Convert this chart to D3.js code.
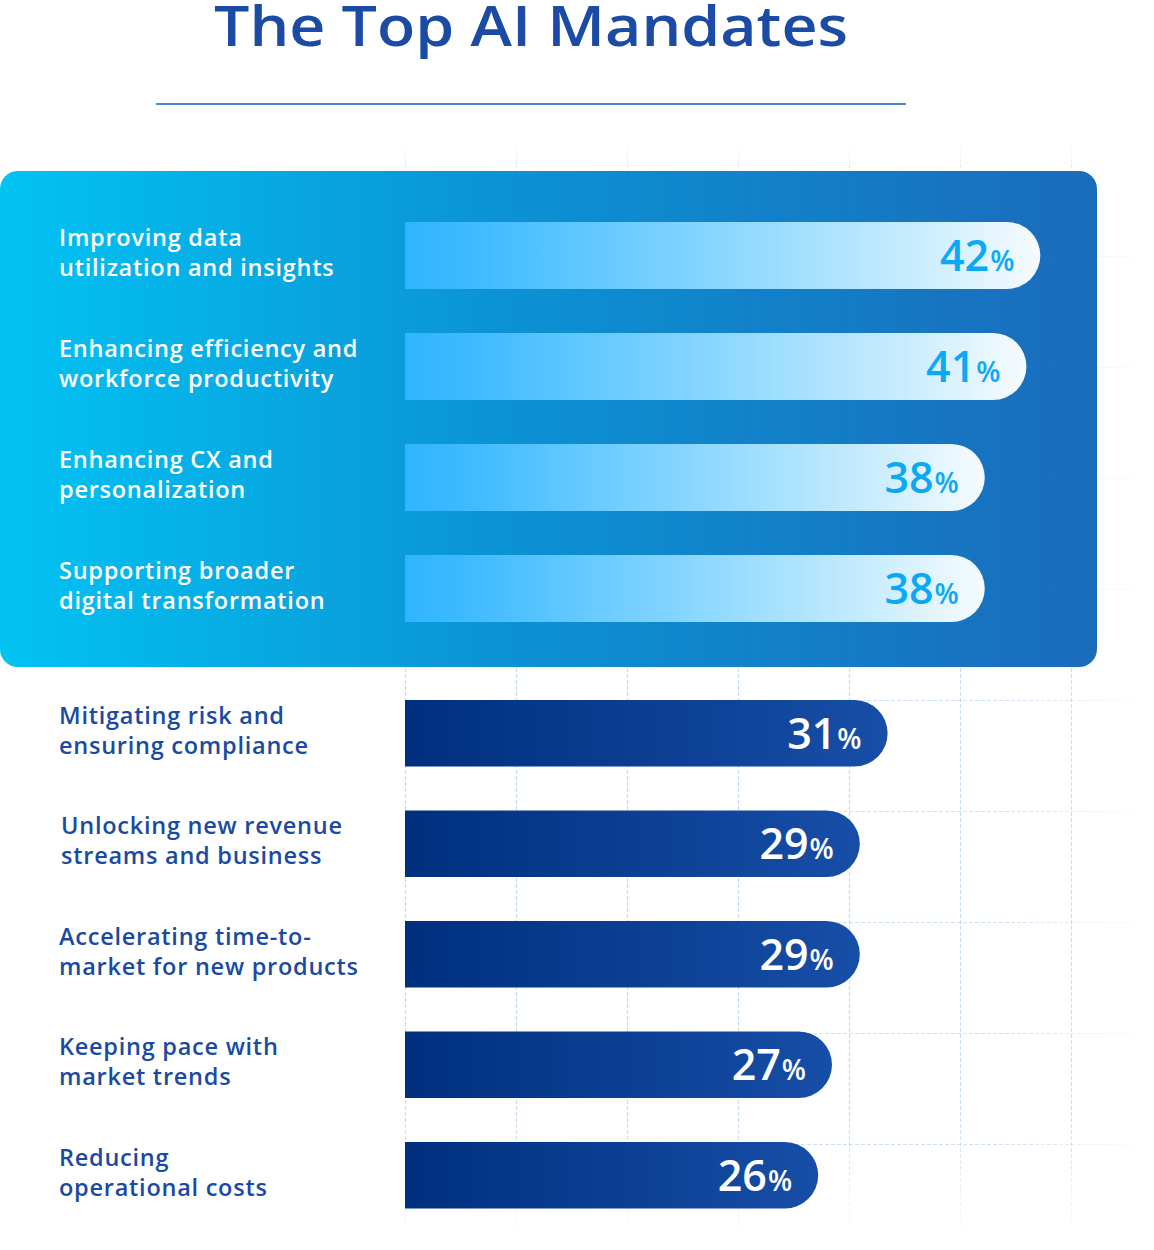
<!DOCTYPE html>
<html>
<head>
<meta charset="utf-8">
<script src="https://cdn.jsdelivr.net/npm/d3@7"></script>
<style>
  html, body { margin: 0; padding: 0; background: #ffffff; }
  svg { display: block; }
  text { font-family: "Open Sans", "Noto Sans", sans-serif; }
</style>
</head>
<body>
<svg id="chart" width="1154" height="1250"></svg>
<script>
// ---- data ----
const title = "The Top AI Mandates";
const topCategories = [
  ["Improving data", "utilization and insights"],
  ["Enhancing efficiency and", "workforce productivity"],
  ["Enhancing CX and", "personalization"],
  ["Supporting broader", "digital transformation"]
];
const topValues = [42, 41, 38, 38];
const bottomCategories = [
  ["Mitigating risk and", "ensuring compliance"],
  ["Unlocking new revenue", "streams and business"],
  ["Accelerating time-to-", "market for new products"],
  ["Keeping pace with", "market trends"],
  ["Reducing", "operational costs"]
];
const bottomValues = [31, 29, 29, 27, 26];
const gridSteps = [0, 1, 2, 3, 4, 5, 6];      // vertical grid columns
const gridRows = [0, 1, 2, 3, 4, 5, 6, 7, 8];  // horizontal grid rows

// ---- layout ----
const barLeft = 405;
const svg = d3.select("#chart");
const defs = svg.append("defs");

const x = d3.scaleLinear().domain([0, 45]).range([457, 1082]);
const gridX = d3.scaleLinear().domain([0, 1]).range([405, 516]);
const gridY = d3.scaleLinear().domain([0, 1]).range([256, 367]);

const topKeys = topCategories.map(d => d.join(" "));
const bottomKeys = bottomCategories.map(d => d.join(" "));
const yTop = d3.scaleBand().domain(topKeys).range([200, 644]).paddingInner(0.396).paddingOuter(0.198);
const yBottom = d3.scaleBand().domain(bottomKeys).range([678, 1230.5]).paddingInner(0.396).paddingOuter(0.198);

// gradients
function linGrad(id, stops, attrs) {
  const g = defs.append("linearGradient").attr("id", id);
  Object.entries(attrs || {x1: "0%", y1: "0%", x2: "100%", y2: "0%"}).forEach(([k, v]) => g.attr(k, v));
  stops.forEach(s => g.append("stop").attr("offset", s[0]).attr("stop-color", s[1]).attr("stop-opacity", s[2] == null ? 1 : s[2]));
  return g;
}
linGrad("boxGrad", [["0%", "#02c3f3"], ["45%", "#0b93d5"], ["100%", "#1a6bbb"]]);
linGrad("topBarGrad", [["0%", "#2fb5ff"], ["10%", "#3dbaff"], ["50%", "#8ad7ff"], ["80%", "#c8ecfd"], ["100%", "#f6fbff"]]);
linGrad("botBarGrad", [["0%", "#002f7e"], ["100%", "#174ea7"]]);
linGrad("vGridGrad", [["0%", "#2a78cc", 0], ["4%", "#2a78cc", 0.25], ["88%", "#2a78cc", 0.25], ["100%", "#2a78cc", 0]],
  {gradientUnits: "userSpaceOnUse", x1: 0, y1: 140, x2: 0, y2: 1245});
linGrad("hGridGrad", [["0%", "#2a78cc", 0.25], ["80%", "#2a78cc", 0.22], ["100%", "#2a78cc", 0]],
  {gradientUnits: "userSpaceOnUse", x1: 405, y1: 0, x2: 1154, y2: 0});

// ---- title ----
svg.append("text")
  .attr("x", 531).attr("y", 46)
  .attr("text-anchor", "middle")
  .attr("fill", "#1b4ba4")
  .attr("font-size", 56)
  .attr("font-weight", 600)
  .attr("textLength", 634)
  .attr("lengthAdjust", "spacingAndGlyphs")
  .text(title);

svg.append("line")
  .attr("x1", 156).attr("x2", 906).attr("y1", 104).attr("y2", 104)
  .attr("stroke", "#4a88d2").attr("stroke-width", 2);

// ---- highlight box ----
svg.append("rect")
  .attr("x", 0).attr("y", 171).attr("width", 1097).attr("height", 496)
  .attr("rx", 18).attr("ry", 18)
  .attr("fill", "url(#boxGrad)");

// ---- grid ----
const grid = svg.append("g");
grid.selectAll("line.v").data(gridSteps).join("line")
  .attr("class", "v")
  .attr("x1", d => gridX(d) + 0.5).attr("x2", d => gridX(d) + 0.5)
  .attr("y1", 140).attr("y2", 1245)
  .attr("stroke", "url(#vGridGrad)").attr("stroke-width", 1.2)
  .attr("stroke-dasharray", "4 2");
grid.selectAll("line.h").data(gridRows).join("line")
  .attr("class", "h")
  .attr("x1", 405).attr("x2", 1154)
  .attr("y1", d => gridY(d) + 0.5).attr("y2", d => gridY(d) + 0.5)
  .attr("stroke", "url(#hGridGrad)").attr("stroke-width", 1.2)
  .attr("stroke-dasharray", "4 2");

// ---- bars ----
function barPath(x0, x1, y0, h) {
  const r = h / 2;
  const p = d3.path();
  p.moveTo(x0, y0);
  p.lineTo(x1 - r, y0);
  p.arc(x1 - r, y0 + r, r, -Math.PI / 2, Math.PI / 2);
  p.lineTo(x0, y0 + h);
  p.closePath();
  return p.toString();
}

function drawGroup(keys, cats, vals, yScale, opts) {
  const g = svg.append("g");
  const rows = keys.map((k, i) => ({key: k, lines: cats[i], value: vals[i]}));
  const row = g.selectAll("g.row").data(rows).join("g").attr("class", "row");

  row.append("path")
    .attr("d", d => barPath(barLeft, x(d.value), yScale(d.key), yScale.bandwidth()))
    .attr("fill", opts.barFill);

  const lbl = row.append("text")
    .attr("x", d => 59 + (opts.labelDx ? opts.labelDx(d) : 0))
    .attr("y", d => yScale(d.key) + yScale.bandwidth() / 2 - 9.5)
    .attr("fill", opts.labelColor)
    .attr("font-size", 23.5)
    .attr("font-weight", 600)
    .attr("letter-spacing", 0.75);
  lbl.selectAll("tspan").data(d => d.lines).join("tspan")
    .attr("x", function () { return d3.select(this.parentNode).attr("x"); })
    .attr("dy", (d, i) => i === 0 ? 0 : 30)
    .text(d => d);

  const val = row.append("text")
    .attr("x", d => x(d.value) - 26)
    .attr("y", d => yScale(d.key) + yScale.bandwidth() / 2 + 15.5)
    .attr("text-anchor", "end")
    .attr("fill", opts.valueColor)
    .attr("font-weight", 600);
  val.append("tspan").attr("font-size", 43).text(d => d.value);
  val.append("tspan").attr("font-size", 28).attr("dx", 1).text("%");
}

drawGroup(topKeys, topCategories, topValues, yTop, {
  barFill: "url(#topBarGrad)", labelColor: "#ffffff", valueColor: "#0ba9f5"
});
drawGroup(bottomKeys, bottomCategories, bottomValues, yBottom, {
  barFill: "url(#botBarGrad)", labelColor: "#1a4aa2", valueColor: "#ffffff",
  labelDx: d => d.key.startsWith("Unlocking") ? 2 : 0
});
</script>
</body>
</html>
